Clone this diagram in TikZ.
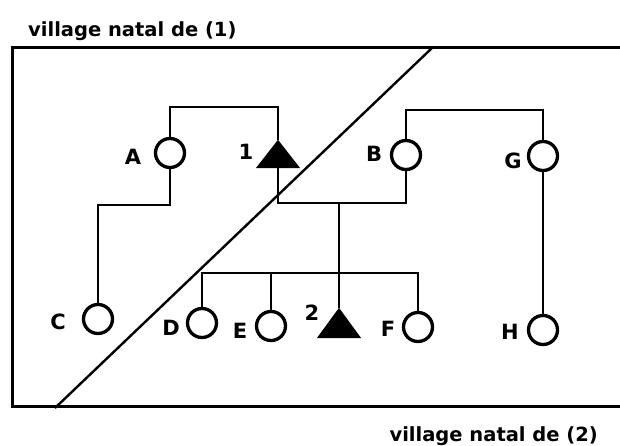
\documentclass[tikz,border=0pt]{standalone}
\usepackage{fontspec}
\setmainfont{DejaVu Sans}
\begin{document}
\begin{tikzpicture}[x=1pt,y=-1pt,
  line join=miter,
  link/.style={line width=2.8pt},
  frame/.style={line width=3pt},
  fem/.style={circle,draw,line width=3.3pt,minimum size=29pt,inner sep=0pt},
  male/.style={rectangle,inner sep=0pt,minimum width=44pt},
  lbl/.style={font=\bfseries\fontsize{21}{21}\selectfont,inner sep=0pt},
  ttl/.style={font=\bfseries\fontsize{19.5}{19.5}\selectfont,inner sep=0pt}]
\useasboundingbox (0,0) rectangle (620,446);
% frame and diagonal
\coordinate (f1) at (620,48);
\coordinate (f2) at (12,48);
\coordinate (f3) at (12,406);
\coordinate (f4) at (620,406);
\draw[frame] (f1) -- (f2) -- (f3) -- (f4);
\coordinate (d1) at (432,48);
\coordinate (d2) at (55,408);
\draw[line width=2.4pt] (d1) -- (d2);
\node[ttl,anchor=base west] (t1txt) at (28,37) {village natal de (1)};
\node[ttl,anchor=base east] (t2txt) at (598,441) {village natal de (2)};
% individuals
\node[fem] (A) at (170,153) {};
\node[male,minimum height=28pt] (T1) at (278,154) {};
\fill (T1.north) -- (T1.south east) -- (T1.south west) -- cycle;
\node[fem] (B) at (406,155) {};
\node[fem] (G) at (543,156) {};
\node[fem] (C) at (98,319) {};
\node[fem] (D) at (202,323) {};
\node[fem] (E) at (271,326) {};
\node[male,minimum height=30pt] (T2) at (339,323) {};
\fill (T2.north) -- (T2.south east) -- (T2.south west) -- cycle;
\node[fem] (F) at (418,327) {};
\node[fem] (H) at (543,330) {};
% labels
\node[lbl] (lA) at (133,157) {A};
\node[lbl] (l1) at (246,152) {1};
\node[lbl] (lB) at (374,154) {B};
\node[lbl] (lG) at (513,161) {G};
\node[lbl] (lC) at (58,322) {C};
\node[lbl] (lD) at (171,328) {D};
\node[lbl] (lE) at (240,331) {E};
\node[lbl] (l2) at (312,313) {2};
\node[lbl] (lF) at (388,329) {F};
\node[lbl] (lH) at (510,332) {H};
% connectors
\coordinate (m1) at (224,107);
\draw[link] (A.north) |- (m1) -| (T1.north);
\coordinate (ac) at (98,205);
\draw[link] (A.south) |- (ac) -- (C.north);
\coordinate (bg) at (475,110);
\draw[link] (B.north) |- (bg) -| (G.north);
\coordinate (m2) at (339,203);
\draw[link] (T1.south) |- (m2) -| (B.south);
\coordinate (sib) at (339,273);
\draw[link] (m2) -- (T2.north);
\draw[link] (D.north) |- (sib) -| (F.north);
\draw[link] (E.north) -- (E.north |- sib);
\draw[link] (G.south) -- (H.north);
\end{tikzpicture}
\end{document}
